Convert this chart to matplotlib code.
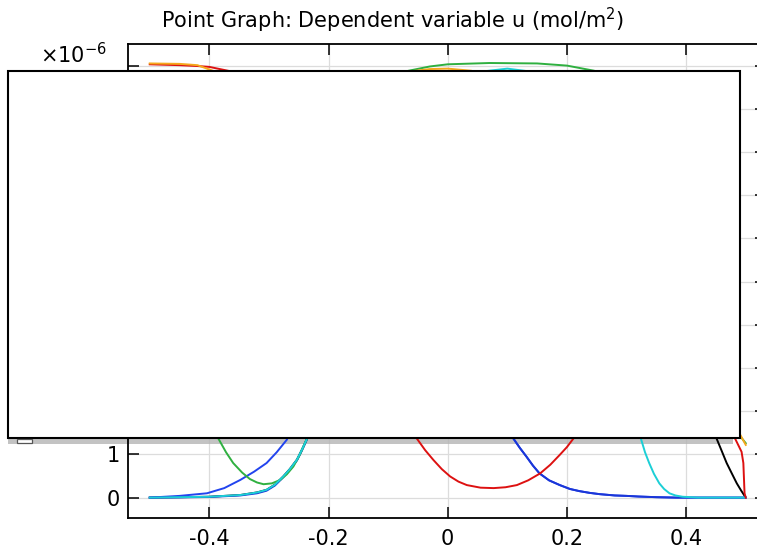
import matplotlib
matplotlib.use("Agg")
import matplotlib.pyplot as plt
from matplotlib.patches import Rectangle

plt.rcParams['axes.unicode_minus'] = False
plt.rcParams['font.family'] = 'DejaVu Sans'

# values in units of 1e-6 mol/m^2
# (parts behind the legend box are rough guesses)
bundle_x = [-0.5, -0.45, -0.40, -0.348, -0.32, -0.304, -0.29, -0.276, -0.265, -0.253, -0.245, -0.237]
bundle_y = [0.0, 0.01, 0.02, 0.06, 0.12, 0.18, 0.30, 0.49, 0.66, 0.88, 1.10, 1.34]

black_x = bundle_x + [-0.2, -0.1, 0.0, 0.2, 0.35, 0.42, 0.451, 0.46, 0.468, 0.477, 0.485, 0.492, 0.5]
black_y = bundle_y + [4.0, 8.0, 9.0, 9.0, 8.0, 4.0, 1.37, 1.07, 0.80, 0.55, 0.33, 0.17, 0.0]

cyan_x = bundle_x + [-0.2, -0.15, -0.1, 0.0, 0.05, 0.1, 0.14, 0.2, 0.28, 0.31, 0.324, 0.331, 0.338,
                     0.346, 0.355, 0.363, 0.372, 0.382, 0.394, 0.42, 0.5]
cyan_y = bundle_y + [4.0, 7.0, 8.8, 9.7, 9.85, 9.93, 9.86, 9.6, 6.0, 3.0, 1.37, 1.05, 0.80,
                     0.55, 0.33, 0.20, 0.10, 0.05, 0.02, 0.0, 0.0]

blue_right_x = [0.05, 0.08, 0.110, 0.121, 0.132, 0.143, 0.154, 0.17, 0.188, 0.205, 0.221, 0.238,
                0.255, 0.28, 0.30, 0.32, 0.35, 0.383, 0.5]
blue_right_y = [6.0, 3.0, 1.37, 1.15, 0.95, 0.74, 0.56, 0.40, 0.29, 0.20, 0.15, 0.11,
                0.08, 0.05, 0.04, 0.025, 0.01, 0.0, 0.0]

blue1_x = [-0.5, -0.45, -0.404, -0.375, -0.348, -0.325, -0.304, -0.287, -0.270, -0.24, -0.2,
           -0.15, -0.1, 0.0] + blue_right_x
blue1_y = [0.0, 0.04, 0.10, 0.22, 0.41, 0.60, 0.80, 1.05, 1.34, 2.5, 5.0,
           7.5, 8.8, 9.3] + blue_right_y

blue2_x = [-0.5, -0.45, -0.40, -0.348, -0.32, -0.304, -0.29, -0.276, -0.265, -0.253, -0.245,
           -0.237, -0.2, -0.1, 0.0] + blue_right_x
blue2_y = [0.0, 0.005, 0.015, 0.05, 0.10, 0.16, 0.28, 0.47, 0.64, 0.86, 1.08,
           1.32, 4.0, 8.5, 9.2] + blue_right_y

green_x = [-0.5, -0.45, -0.41, -0.385, -0.372, -0.360, -0.345, -0.332, -0.32, -0.309, -0.295,
           -0.281, -0.27, -0.259, -0.248, -0.237, -0.2, -0.15, -0.1, -0.066, -0.03, 0.0, 0.07,
           0.15, 0.2, 0.246, 0.3, 0.4, 0.46, 0.489, 0.5]
green_y = [7.5, 4.5, 2.2, 1.37, 1.05, 0.80, 0.58, 0.43, 0.35, 0.31, 0.33,
           0.41, 0.54, 0.72, 1.0, 1.34, 4.0, 8.0, 9.7, 9.88, 9.98, 10.03, 10.06,
           10.05, 10.0, 9.88, 9.0, 6.0, 3.0, 1.45, 1.26]

red_x = [-0.5, -0.45, -0.42, -0.4, -0.365, -0.3, -0.2, -0.12, -0.08, -0.052, -0.038, -0.024, -0.01,
         0.004, 0.018, 0.032, 0.055, 0.077, 0.097, 0.116, 0.135, 0.155, 0.172, 0.188, 0.2,
         0.211, 0.25, 0.3, 0.4, 0.45, 0.47, 0.482, 0.493, 0.496, 0.498, 0.5]
red_y = [10.03, 10.01, 9.99, 9.97, 9.87, 9.0, 7.0, 4.0, 2.2, 1.37, 1.10, 0.87, 0.66,
         0.49, 0.37, 0.29, 0.23, 0.22, 0.24, 0.29, 0.40, 0.56, 0.76, 0.99, 1.17,
         1.37, 3.0, 6.0, 8.0, 6.0, 3.5, 1.37, 1.06, 0.80, 0.10, 0.0]

orange_x = [-0.5, -0.45, -0.42, -0.39, -0.3, -0.2, -0.1, -0.06, -0.03, 0.0, 0.04, 0.2, 0.35,
            0.45, 0.485, 0.5]
orange_y = [10.05, 10.04, 10.01, 9.86, 9.0, 8.5, 9.6, 9.87, 9.92, 9.93, 9.88, 8.0, 5.0,
            2.5, 1.6, 1.22]

curves = [
    (black_x, black_y, '#000000'),
    (blue1_x, blue1_y, '#2244ee'),
    (blue2_x, blue2_y, '#1a36d8'),
    (green_x, green_y, '#2fb040'),
    (cyan_x, cyan_y, '#1ccfd6'),
    (red_x, red_y, '#dd1111'),
    (orange_x, orange_y, '#f5a81c'),
]

xticks = [-0.4, -0.2, 0, 0.2, 0.4]
xtick_labels = ['-0.4', '-0.2', '0', '0.2', '0.4']
yticks = [0, 1, 2, 3, 4, 5, 6, 7, 8, 9, 10]
ytick_labels = ['0', '1', '2', '3', '4', '5', '6', '7', '8', '9', '']

W, H = 757, 554
fig = plt.figure(figsize=(W / 100, H / 100), dpi=100)
ax = fig.add_axes([128.3 / W, 1 - 517.7 / H, (766 - 128.3) / W, (517.7 - 44) / H])

for xs, ys, c in curves:
    ax.plot(xs, ys, color=c, lw=1.4, zorder=3, solid_joinstyle='round')

ax.set_xlim(-0.536, 0.534)
ax.set_ylim(-0.465, 10.5)
ax.set_xticks(xticks)
ax.set_xticklabels(xtick_labels)
ax.set_yticks(yticks)
ax.set_yticklabels(ytick_labels)
ax.grid(True, color='#dcdcdc', lw=0.9, zorder=0)
ax.set_axisbelow(True)
ax.tick_params(direction='in', length=7.9, width=1.1, top=True, right=True,
               labelsize=15, pad=6)
ax.tick_params(axis='x', pad=8)
for sp in ax.spines.values():
    sp.set_linewidth(1.3)

fig.text(392 / W, 1 - 20 / H, 'Point Graph: Dependent variable u (mol/m$^2$)',
         ha='center', va='center', fontsize=15)
fig.text(40 / W, 1 - 63 / H, '×10$^{-6}$', ha='left', va='baseline', fontsize=15)

# legend box (contents cut off) with its shadow
shadow = Rectangle((8 / W, 1 - 444 / H), 725 / W, 6 / H, transform=fig.transFigure,
                   facecolor='#b4b4b4', edgecolor='none', alpha=0.8, zorder=1.5, clip_on=False)
ax.add_patch(shadow)
box = Rectangle((8 / W, 1 - 438 / H), 732 / W, (438 - 70.7) / H, transform=fig.transFigure,
                facecolor='white', edgecolor='black', lw=1.5, zorder=10, clip_on=False)
ax.add_patch(box)
marker = Rectangle((17 / W, 1 - 442.5 / H), 15 / W, 4 / H, transform=fig.transFigure,
                   facecolor='white', edgecolor='#555555', lw=0.9, zorder=10, clip_on=False)
ax.add_patch(marker)

fig.savefig('out.png', dpi=100)
